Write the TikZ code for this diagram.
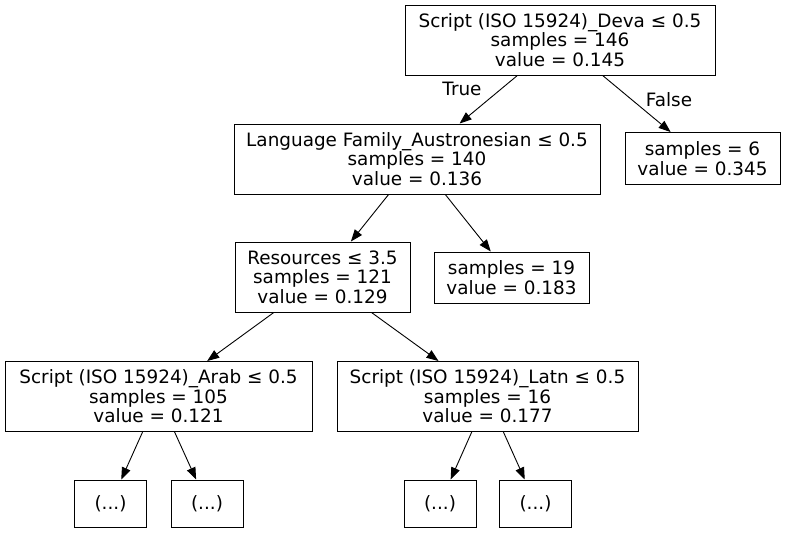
\documentclass[tikz,border=0pt]{standalone}
\usepackage{fontspec}
\setmainfont{DejaVu Sans}
\usetikzlibrary{arrows.meta}
\tikzset{
	box/.style={draw, line width=1pt, rectangle, inner sep=0pt, align=center,
		font=\fontsize{18.4}{19.4}\selectfont},
	edge/.style={line width=0.9pt, -{Triangle[length=12pt,width=9pt]}},
	lbl/.style={font=\fontsize{18.4}{19.4}\selectfont}
}
\begin{document}
\begin{tikzpicture}[x=1pt,y=-1pt]
	\useasboundingbox (0,0) rectangle (785,533);
	\node[box, minimum width=310pt, minimum height=70pt] (deva) at (560,40)
		{Script (ISO 15924)\_Deva ≤ 0.5\\samples = 146\\value = 0.145};
	\node[box, minimum width=366pt, minimum height=70pt] (austro) at (417,159)
		{Language Family\_Austronesian ≤ 0.5\\samples = 140\\value = 0.136};
	\node[box, minimum width=155pt, minimum height=52pt] (leafsix) at (702.5,158.5)
		{samples = 6\\value = 0.345};
	\node[box, minimum width=175pt, minimum height=70pt] (resources) at (322.5,277)
		{Resources ≤ 3.5\\samples = 121\\value = 0.129};
	\node[box, minimum width=155pt, minimum height=51pt] (leafnineteen) at (511.5,277.5)
		{samples = 19\\value = 0.183};
	\node[box, minimum width=307pt, minimum height=70pt] (arab) at (158.5,396.5)
		{Script (ISO 15924)\_Arab ≤ 0.5\\samples = 105\\value = 0.121};
	\node[box, minimum width=301pt, minimum height=70pt] (latn) at (487.5,396.5)
		{Script (ISO 15924)\_Latn ≤ 0.5\\samples = 16\\value = 0.177};
	\node[box, minimum width=72pt, minimum height=47pt] (arabl) at (110.5,503.5) {(...)};
	\node[box, minimum width=72pt, minimum height=47pt] (arabr) at (207,503.5) {(...)};
	\node[box, minimum width=72pt, minimum height=47pt] (latnl) at (440,503.5) {(...)};
	\node[box, minimum width=72pt, minimum height=47pt] (latnr) at (535.5,503.5) {(...)};
	% edges
	\draw[edge] (deva) -- (austro);
	\draw[edge] (deva) -- (leafsix);
	\draw[edge] (austro) -- (resources);
	\draw[edge] (austro) -- (leafnineteen);
	\draw[edge] (resources) -- (arab);
	\draw[edge] (resources) -- (latn);
	\draw[edge] (arab) -- (arabl);
	\draw[edge] (arab) -- (arabr);
	\draw[edge] (latn) -- (latnl);
	\draw[edge] (latn) -- (latnr);
	\node[lbl] (truelbl) at (462,89) {True};
	\node[lbl] (falselbl) at (669,100) {False};
\end{tikzpicture}
\end{document}
